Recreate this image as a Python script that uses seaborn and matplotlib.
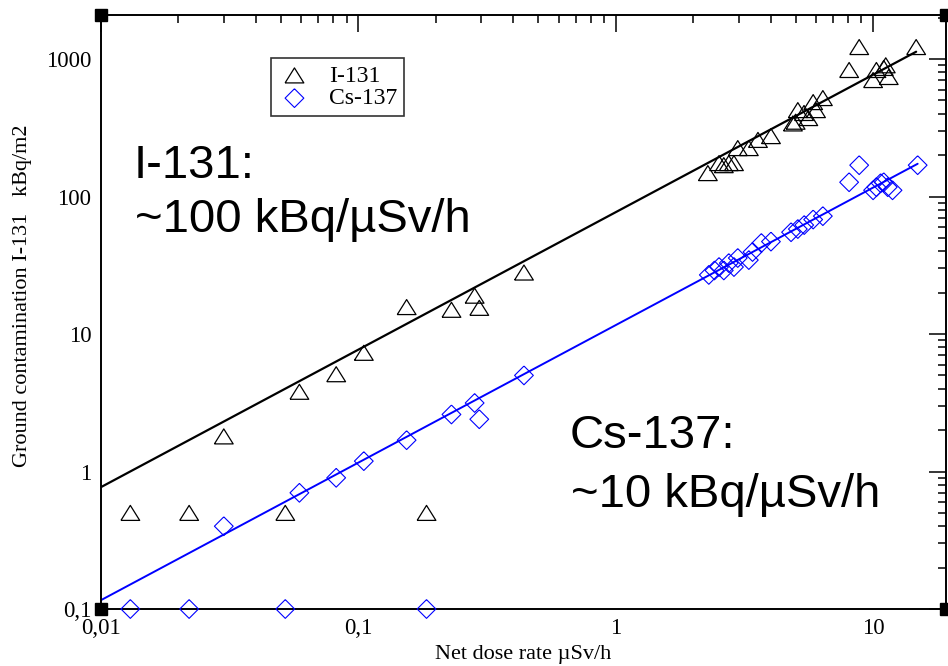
"""
Ground contamination vs net dose rate (log-log), I-131 and Cs-137
with their proportional fit lines.
"""

import numpy as np
import pandas as pd
import seaborn as sns
import matplotlib
matplotlib.use("Agg")
import matplotlib.pyplot as plt
from matplotlib.ticker import FixedLocator, FixedFormatter, LogLocator, NullFormatter

# I-131 measurements (dose rate uSv/h, contamination kBq/m2)
i131_dose = [0.013, 0.022, 0.030, 0.052, 0.059, 0.082, 0.105, 0.154, 0.184, 0.23, 0.283, 0.295, 0.44,
             2.28, 2.52, 2.63, 2.75, 2.88, 2.98, 3.29, 3.57, 4.01, 4.88, 5.0, 5.1, 5.39, 5.6, 5.85,
             6.0, 6.38, 8.07, 8.83, 10.0, 10.3, 11.0, 11.2, 11.5, 14.7]
i131_cont = [0.5, 0.5, 1.8, 0.5, 3.8, 5.1, 7.3, 15.7, 0.5, 15, 19, 15.5, 28,
             148, 175, 169, 175, 175, 225, 225, 258, 275, 340, 350, 425, 405, 372, 486,
             425, 520, 832, 1222, 703, 832, 861, 900, 740, 1222]

# Cs-137 measurements
cs137_dose = [0.013, 0.022, 0.030, 0.052, 0.059, 0.082, 0.105, 0.154, 0.184, 0.23, 0.283, 0.295, 0.44,
              2.30, 2.42, 2.52, 2.63, 2.75, 2.88, 2.98, 3.29, 3.40, 3.68, 4.01, 4.8, 5.1, 5.4, 5.85,
              6.38, 8.07, 8.83, 10.0, 10.3, 10.7, 11.0, 11.4, 11.9, 14.9]
cs137_cont = [0.1, 0.1, 0.4, 0.1, 0.7, 0.9, 1.19, 1.69, 0.1, 2.6, 3.15, 2.4, 5.0,
              26.9, 29, 30.7, 29, 32.8, 30.7, 35.7, 34.5, 39.5, 45.9, 47, 55, 58, 62, 68,
              72, 127, 169, 111, 117, 125, 127, 117, 111, 169]

# fit lines (end points)
i131_fit_x = [0.01, 14.7]
i131_fit_y = [0.77, 1130]
cs137_fit_x = [0.01, 14.9]
cs137_fit_y = [0.116, 173]

xtick_vals = [0.01, 0.1, 1, 10]
xtick_labels = ["0,01", "0,1", "1", "10"]
ytick_vals = [0.1, 1, 10, 100, 1000]
ytick_labels = ["0,1", "1", "10", "100", "1000"]

sns.set_style("white")
plt.rcParams["font.family"] = ["Liberation Serif", "DejaVu Serif"]
plt.rcParams["text.color"] = "black"
plt.rcParams["axes.labelcolor"] = "black"
plt.rcParams["xtick.color"] = "black"
plt.rcParams["ytick.color"] = "black"

# closed outlines for hollow markers
tri = [(-1, -0.8), (1, -0.8), (0, 0.8), (-1, -0.8)]
dia = [(0, 1), (1, 0), (0, -1), (-1, 0), (0, 1)]

fig = plt.figure(figsize=(9.48, 6.66), dpi=100)
ax = fig.add_axes([101 / 948, 1 - 609 / 666, 845 / 948, 594 / 666])

df_i = pd.DataFrame({"dose": i131_dose, "cont": i131_cont})
df_c = pd.DataFrame({"dose": cs137_dose, "cont": cs137_cont})

sns.lineplot(x=i131_fit_x, y=i131_fit_y, color="black", linewidth=1.6, ax=ax)
sns.lineplot(x=cs137_fit_x, y=cs137_fit_y, color="#0000ff", linewidth=1.4, ax=ax)

sns.scatterplot(data=df_i, x="dose", y="cont", marker=tri, s=13.5 ** 2,
                facecolor="none", edgecolor="black", linewidth=0.9, ax=ax,
                label="I-131", clip_on=False, zorder=3)
sns.scatterplot(data=df_c, x="dose", y="cont", marker=dia, s=13.5 ** 2,
                facecolor="none", edgecolor="#0000ff", linewidth=0.8, ax=ax,
                label="Cs-137", clip_on=False, zorder=3)

ax.set_xscale("log")
ax.set_yscale("log")
ax.set_xlim(0.01, 19.2)
ax.set_ylim(0.1, 2090)

ax.xaxis.set_major_locator(FixedLocator(xtick_vals))
ax.xaxis.set_major_formatter(FixedFormatter(xtick_labels))
ax.yaxis.set_major_locator(FixedLocator(ytick_vals))
ax.yaxis.set_major_formatter(FixedFormatter(ytick_labels))
for axis in (ax.xaxis, ax.yaxis):
    axis.set_minor_locator(LogLocator(base=10, subs=np.arange(2, 10), numticks=20))
    axis.set_minor_formatter(NullFormatter())

ax.tick_params(which="both", direction="in", top=True, right=True, color="black", width=1.1)
ax.tick_params(which="major", length=12, labelsize=16.5, labelcolor="black")
ax.tick_params(which="minor", length=6)
ax.tick_params(axis="x", which="major", pad=6.5)
ax.tick_params(axis="y", which="major", pad=7)
for sp in ax.spines.values():
    sp.set_color("black")
    sp.set_linewidth(1.4)

ax.set_xlabel("Net dose rate \u00b5Sv/h", fontsize=16, color="black")
ax.set_ylabel("Ground contamination I-131   kBq/m2", fontsize=16, color="black")
ax.xaxis.set_label_coords(0.5, -0.06)
ax.yaxis.set_label_coords(-0.082, 0.527)

# corner markers
ax.plot([0, 0, 1, 1], [0, 1, 0, 1], "s", ms=9, color="black",
        transform=ax.transAxes, clip_on=False, zorder=5)

leg = ax.legend(loc="upper left", bbox_to_anchor=(0.201, 0.9276), borderaxespad=0,
                fontsize=17, frameon=True, fancybox=False, labelspacing=0.05,
                handlelength=1.4, handletextpad=0.75, borderpad=0.3)
leg.get_frame().set_edgecolor("black")
leg.get_frame().set_linewidth(1.2)
for t in leg.get_texts():
    t.set_color("black")

sans = ["Liberation Sans", "DejaVu Sans"]
ax.text(0.039, 0.7256, "I-131:", transform=ax.transAxes, fontsize=34,
        family=sans, ha="left", va="baseline", color="black")
ax.text(0.040, 0.6347, "~100 kBq/\u00b5Sv/h", transform=ax.transAxes, fontsize=34,
        family=sans, ha="left", va="baseline", color="black")
ax.text(0.555, 0.271, "Cs-137:", transform=ax.transAxes, fontsize=34,
        family=sans, ha="left", va="baseline", color="black")
ax.text(0.556, 0.1717, "~10 kBq/\u00b5Sv/h", transform=ax.transAxes, fontsize=34,
        family=sans, ha="left", va="baseline", color="black")

fig.savefig("out.png", dpi=100)
